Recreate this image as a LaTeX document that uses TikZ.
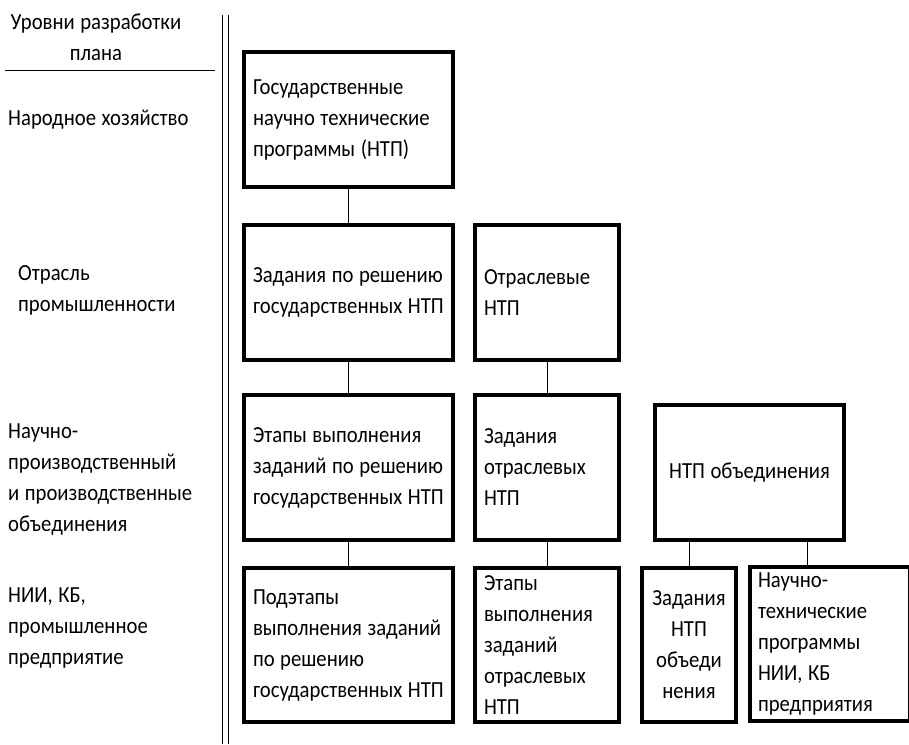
\documentclass[tikz,border=0pt]{standalone}
\usepackage{fontspec}
\setmainfont{Carlito}[FakeStretch=0.9]
\begin{document}
\begin{tikzpicture}[x=1pt,y=-1pt,
  txt/.style={font=\fontsize{23}{31}\selectfont, inner sep=0pt,
    execute at begin node={\spaceskip=0.24em\relax}},
  lvl/.style={txt, anchor=west, align=left},
  blk/.style={draw, line width=3.2pt, txt, inner xsep=9pt, align=left},
  link/.style={line width=1pt},
  rule/.style={line width=0.9pt}]
\useasboundingbox (0,0) rectangle (909,744);
\clip (0,0) rectangle (909,744);

% header and level captions
\node[txt, align=center] (hdr) at (96,37) {Уровни разработки\\плана};
\draw[rule] (5,70) coordinate (hl) -- (215,70) coordinate (hr);
\draw[rule] (222.5,15) coordinate (v1t) -- (222.5,744) coordinate (v1b);
\draw[rule] (228.5,15) coordinate (v2t) -- (228.5,744) coordinate (v2b);

\node[lvl] (l1) at (8,120) {Народное хозяйство};
\node[lvl] (l2) at (18,290) {Отрасль\\промышленности};
\node[lvl] (l3) at (8,479) {Научно-\\производственный\\и производственные\\объединения};
\node[lvl] (l4) at (8,628) {НИИ, КБ,\\промышленное\\предприятие};

% blocks
\node[blk, text width=191pt, minimum height=135pt] (b1) at (348.5,119.5)
  {Государственные\\научно технические\\программы (НТП)};
\node[blk, text width=191pt, minimum height=135pt] (b2) at (348.5,292.5)
  {Задания по решению\\государственных НТП};
\node[blk, text width=126pt, minimum height=135pt] (b3) at (547,292.5)
  {Отраслевые\\НТП};
\node[blk, text width=191pt, minimum height=145pt] (b4) at (348.5,467.5)
  {Этапы выполнения\\заданий по решению\\государственных НТП};
\node[blk, text width=126pt, minimum height=145pt] (b5) at (547,467.5)
  {Задания\\отраслевых\\НТП};
\node[blk, text width=171pt, minimum height=135pt, align=center] (b6) at (749.5,472.5)
  {НТП объединения};
\node[blk, text width=191pt, minimum height=154pt] (b7) at (348.5,645)
  {Подэтапы\\выполнения заданий\\по решению\\государственных НТП};
\node[blk, text width=126pt, minimum height=154pt] (b8) at (547,645)
  {Этапы\\выполнения\\заданий\\отраслевых\\НТП};
\node[blk, text width=76pt, minimum height=154pt, align=center] (b9) at (689,645)
  {Задания\\НТП\\объеди\\нения};
\node[blk, text width=144pt, minimum height=154pt, inner xsep=8pt] (b10) at (830,644)
  {Научно-\\технические\\программы\\НИИ, КБ\\предприятия};

% connectors
\draw[link] (b1.south) -- (b2.north);
\draw[link] (b2.south) -- (b4.north);
\draw[link] (b4.south) -- (b7.north);
\draw[link] (b3.south) -- (b5.north);
\draw[link] (b5.south) -- (b8.north);
\draw[link] (b6.south -| b9.north) -- (b9.north);
\draw[link] (807,0 |- b6.south) -- (807,0 |- b10.north);
\end{tikzpicture}
\end{document}
